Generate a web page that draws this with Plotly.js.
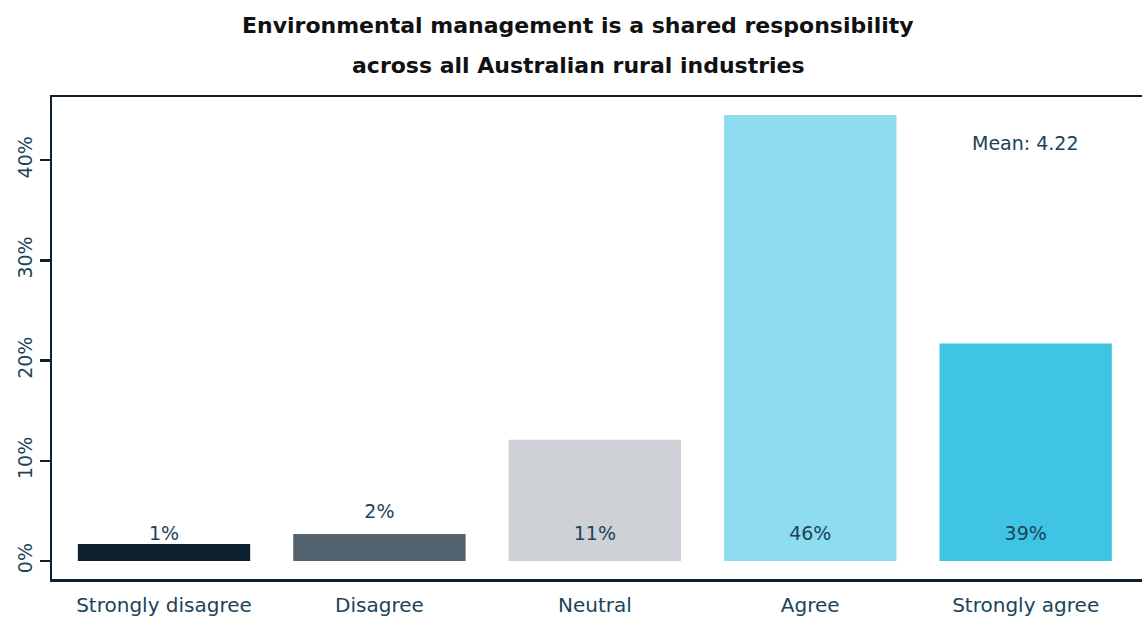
<!DOCTYPE html>
<html>
<head>
<meta charset="utf-8">
<script src="https://cdn.plot.ly/plotly-3.0.1.min.js"></script>
<style>html,body{margin:0;padding:0;background:#fff;}#chart{width:1142px;height:617px;}</style>
</head>
<body>
<div id="chart"></div>
<script>
// Data
const categories = ["Strongly disagree", "Disagree", "Neutral", "Agree", "Strongly agree"];
const barHeights = [1.7, 2.7, 12.1, 44.5, 21.7];
const barLabels = ["1%", "2%", "11%", "46%", "39%"];
const titleLines = ["Environmental management is a shared responsibility", "across all Australian rural industries"];
const meanText = "Mean: 4.22";
const yTickVals = [0, 10, 20, 30, 40];
const yTickText = ["0%", "10%", "20%", "30%", "40%"];

const barColors = ["#0e1f2e", "#52626e", "#cdd0d4", "#8edcef", "#40c4e3"];
const textColor = "#1c4458";
const axisColor = "#0e1f2e";
const FONT = "'DejaVu Sans', sans-serif";

// label anchor heights (near bar base, lifted for the short Disagree bar)
const labelY = barHeights.map((h, i) => (i === 1 ? h + 2.1 : 2.6));

const bars = {
  type: "bar",
  x: categories,
  y: barHeights,
  marker: { color: barColors, line: { width: 0 } },
  width: 0.8,
  hoverinfo: "skip",
  showlegend: false
};

const labels = {
  type: "scatter",
  mode: "text",
  x: categories,
  y: labelY,
  text: barLabels,
  textposition: "middle center",
  textfont: { family: FONT, size: 19, color: textColor },
  hoverinfo: "skip",
  showlegend: false
};

const titleFont = { family: FONT, size: 22, color: "#111" };

const layout = {
  width: 1142,
  height: 617,
  margin: { l: 52, r: 0, t: 97, b: 38 },
  paper_bgcolor: "#fff",
  plot_bgcolor: "#fff",
  font: { family: FONT, color: textColor },
  title: {
    text: "<b>" + titleLines[0] + "</b>",
    font: titleFont,
    x: 0.506, xref: "container", xanchor: "center",
    y: 1 - 25 / 617, yref: "container", yanchor: "middle"
  },
  bargap: 0.2,
  xaxis: {
    type: "category",
    range: [-0.52, 4.54],
    showline: true, mirror: true,
    linecolor: axisColor, linewidth: 2.5,
    ticks: "", showgrid: false, zeroline: false,
    tickfont: { family: FONT, size: 20, color: textColor },
    ticklabelstandoff: 6
  },
  yaxis: {
    range: [-1.8, 46.3],
    showline: true, mirror: false,
    linecolor: axisColor, linewidth: 2.5,
    ticks: "outside", ticklen: 10, tickwidth: 2.5, tickcolor: axisColor,
    tickvals: yTickVals, ticktext: yTickText,
    tickangle: -90,
    showgrid: false, zeroline: false,
    tickfont: { family: FONT, size: 19, color: textColor },
    ticklabelstandoff: 0
  },
  annotations: [
    {
      x: 4, y: 41.7, xref: "x", yref: "y",
      text: meanText, showarrow: false,
      font: { family: FONT, size: 19, color: textColor }
    },
    {
      x: (578 - 52) / 1090, y: (579 - 65) / 482, xref: "paper", yref: "paper",
      xanchor: "center", yanchor: "middle",
      text: "<b>" + titleLines[1] + "</b>", showarrow: false,
      font: titleFont
    }
  ]
};

Plotly.newPlot("chart", [bars, labels], layout, { displayModeBar: false, staticPlot: true });
</script>
</body>
</html>
